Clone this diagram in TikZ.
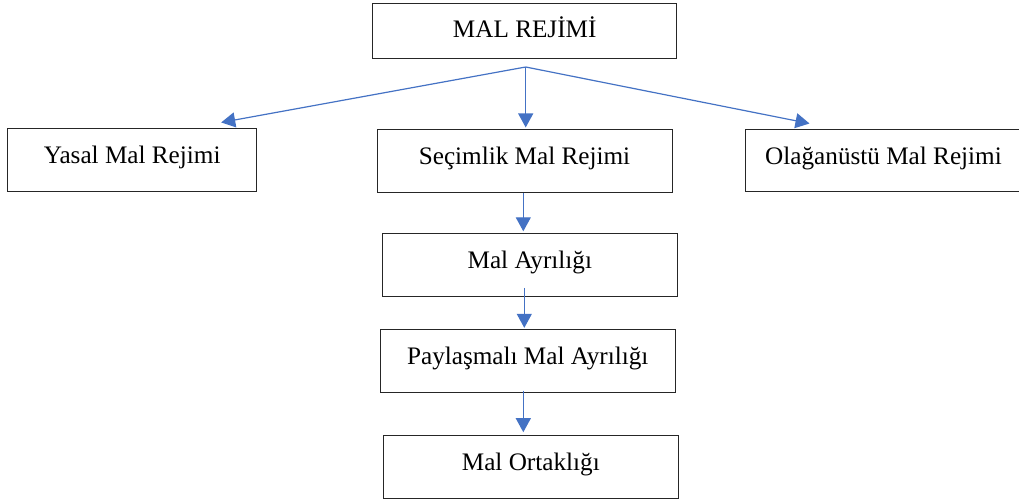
\documentclass[tikz,border=0pt]{standalone}
\usepackage{fontspec}
\setmainfont{Liberation Serif}
\usetikzlibrary{arrows.meta}
\definecolor{arr}{HTML}{4472C4}
\begin{document}
\begin{tikzpicture}[x=1pt,y=-1pt,
  box/.style={draw=black!85, line width=1pt, rectangle, inner sep=0pt,
    font=\fontsize{25.2}{29}\selectfont, text height=14pt, text depth=7pt},
  conn/.style={draw=arr, line width=1.2pt, -{Triangle[width=15pt,length=14pt]}}]
\useasboundingbox (0,0) rectangle (1019,502);
\node[box, text depth=1pt, minimum width=304pt, minimum height=55pt] (root) at (524.7,30.8) {MAL REJİMİ};
\node[box, minimum width=249pt, minimum height=62.7pt] (yasal) at (132.2,160.3) {Yasal Mal Rejimi};
\node[box, minimum width=295pt, minimum height=62.7pt] (secim) at (524.5,161.3) {Seçimlik Mal Rejimi};
\node[box, minimum width=277pt, minimum height=62pt] (olag) at (883.5,161) {Olağanüstü Mal Rejimi};
\node[box, minimum width=295pt, minimum height=63.4pt] (ayri) at (529.8,265) {Mal Ayrılığı};
\node[box, minimum width=295.3pt, minimum height=62.7pt] (payl) at (527.7,360.7) {Paylaşmalı Mal Ayrılığı};
\node[box, minimum width=295pt, minimum height=62.6pt] (ortak) at (530.8,467) {Mal Ortaklığı};
\coordinate (hub) at (525.7,67);
\draw[conn] (hub) -- ([xshift=-36pt,yshift=6pt]yasal.north east);
\draw[conn] (hub) -- ([yshift=2pt]hub |- secim.north);
\draw[conn] (hub) -- ([xshift=65pt,yshift=6pt]olag.north west);
\draw[conn] ([xshift=-1.2pt]secim.south) -- ([xshift=-1.2pt,yshift=1.5pt]secim.south |- ayri.north);
\draw[conn] ([xshift=-5.5pt,yshift=9.4pt]ayri.south) -- ([xshift=-5.5pt,yshift=1pt]ayri.south |- payl.north);
\draw[conn] ([xshift=-4.4pt,yshift=2pt]payl.south) -- ([xshift=-4.4pt,yshift=3pt]payl.south |- ortak.north);
\end{tikzpicture}
\end{document}
